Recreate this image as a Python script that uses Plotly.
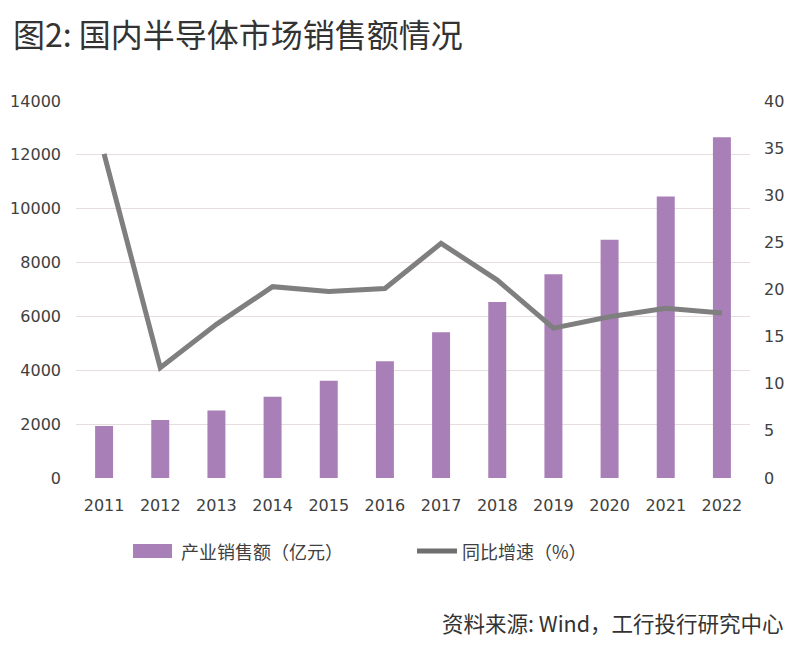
import plotly.graph_objects as go

years = ["2011", "2012", "2013", "2014", "2015", "2016", "2017", "2018", "2019", "2020", "2021", "2022"]
sales = [1930, 2158, 2508, 3015, 3609, 4336, 5411, 6532, 7562, 8848, 10458, 12650]
growth = [34.4, 11.7, 16.3, 20.3, 19.8, 20.1, 24.9, 21.0, 15.9, 17.1, 18.0, 17.5]
left_ticks = [0, 2000, 4000, 6000, 8000, 10000, 12000, 14000]
right_ticks = [0, 5, 10, 15, 20, 25, 30, 35, 40]

bar_name = "产业销售额（亿元）"
line_name = "同比增速（%）"
title_text = "图2: 国内半导体市场销售额情况"
source_text = "资料来源: Wind，工行投行研究中心"

BAR_COLOR = "#A97FB7"
LINE_COLOR = "#7F7F7F"
FONT = "Noto Sans CJK SC"
TICK_FONT = "DejaVu Sans"
TICK_COLOR = "#404040"

# page body has an 8px margin; figure is sized/positioned to compensate
OFF = 8
W, H = 800 - OFF, 647 - OFF
L, T = 76 - OFF, 101 - OFF
R = W - (750 - OFF)
B = H - (478 - OFF)
pw = W - L - R
ph = H - T - B

def px_x(v):
    return (v - OFF - L) / pw

def px_y(v):
    return (H - B - (v - OFF)) / ph

fig = go.Figure()
fig.add_trace(go.Bar(x=years, y=sales, name=bar_name, marker_color=BAR_COLOR,
                     marker_line_width=0, width=0.32, yaxis="y", showlegend=False))
fig.add_trace(go.Scatter(x=years, y=growth, name=line_name, mode="lines",
                         line=dict(color=LINE_COLOR, width=5), yaxis="y2", showlegend=False))

tf = dict(size=16, color=TICK_COLOR, family=TICK_FONT)
fig.update_layout(
    width=W, height=H,
    margin=dict(l=L, r=R, t=T, b=B, autoexpand=False),
    paper_bgcolor="white", plot_bgcolor="white",
    font=dict(family=FONT, color=TICK_COLOR, size=15),
    xaxis=dict(type="category", range=[-0.5, 11.5], showgrid=False, showline=False, ticks="",
               tickfont=tf, ticklabelstandoff=16, automargin=False),
    yaxis=dict(range=[0, 14000], tickvals=left_ticks, ticktext=[str(v) for v in left_ticks],
               showgrid=True, gridcolor="#E7DDDD",
               gridwidth=1, zeroline=False, showline=False, ticks="",
               tickfont=tf, ticklabelstandoff=14, automargin=False),
    yaxis2=dict(range=[0, 40], tickvals=right_ticks, ticktext=[str(v) for v in right_ticks],
                overlaying="y", side="right",
                showgrid=False, zeroline=False, showline=False, ticks="",
                tickfont=tf, ticklabelstandoff=13, automargin=False),
)

ann = [
    (title_text, 11, 8, 32, "#333333", "left", "top"),
    (bar_name, 179, 551, 18, "#404040", "left", "middle"),
    (line_name, 460, 551, 18, "#404040", "left", "middle"),
    (source_text, 786, 622, 21.5, "#333333", "right", "middle"),
]
annotations = []
for text, x, y, size, color, anchor, yanc in ann:
    annotations.append(dict(text=text, x=px_x(x), y=px_y(y), xref="paper", yref="paper",
                            showarrow=False, font=dict(size=size, color=color, family=FONT),
                            xanchor=anchor, yanchor=yanc))
fig.update_layout(annotations=annotations)

fig.add_shape(type="rect", xref="paper", yref="paper",
              x0=px_x(133), x1=px_x(172), y0=px_y(558), y1=px_y(544),
              fillcolor=BAR_COLOR, line=dict(width=0))
fig.add_shape(type="line", xref="paper", yref="paper",
              x0=px_x(417), x1=px_x(457), y0=px_y(551), y1=px_y(551),
              line=dict(color="#6F6F6F", width=5))

fig.write_html("out.html")
